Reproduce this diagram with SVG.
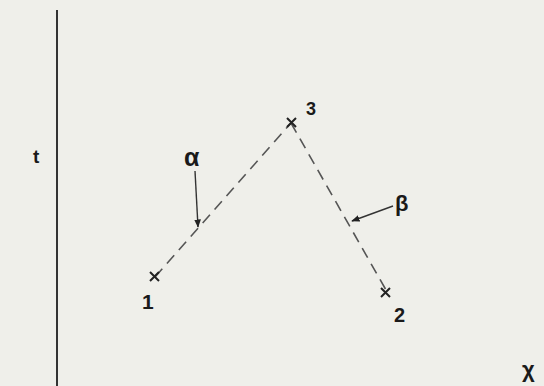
<svg xmlns="http://www.w3.org/2000/svg" width="544" height="386" viewBox="0 0 544 386">
<style>
.lbl{font-family:"Liberation Sans",Arial,sans-serif;fill:#1a1a1a;font-weight:bold}
.dash{stroke:#555;stroke-width:1.6;stroke-dasharray:11,7;fill:none}
.ptr{stroke:#333;stroke-width:1.4;fill:none}
.cross{stroke:#222;stroke-width:2;fill:none}
</style>
<defs>
<marker id="ah" viewBox="0 0 10 10" refX="9" refY="5" markerWidth="6" markerHeight="6" orient="auto">
<path d="M0,1 L10,5 L0,9 z" fill="#222"/>
</marker>
</defs>
<rect width="544" height="386" fill="#efefea"/>
<g id="axis">
<line x1="57" y1="10" x2="57" y2="386" stroke="#333" stroke-width="2"/>
<text class="lbl" x="33" y="163" font-size="19">t</text>
<text class="lbl" x="522" y="377" font-size="22" font-weight="normal">χ</text>
</g>
<g id="connectors">
<line class="dash" x1="155" y1="277" x2="291" y2="123"/>
<line class="dash" x1="291" y1="123" x2="386" y2="290"/>
<line class="ptr" x1="195" y1="171" x2="198" y2="227" marker-end="url(#ah)"/>
<line class="ptr" x1="393" y1="206" x2="352" y2="221" marker-end="url(#ah)"/>
</g>
<g id="p1">
<path class="cross" d="M150,272 L159,281 M159,272 L150,281"/>
<text class="lbl" x="142" y="309" font-size="21" font-weight="normal">1</text>
</g>
<g id="p3">
<path class="cross" d="M287,118 L296,127 M296,118 L287,127"/>
<text class="lbl" x="306" y="115" font-size="18">3</text>
</g>
<g id="p2">
<path class="cross" d="M381,288 L390,297 M390,288 L381,297"/>
<text class="lbl" x="394" y="322" font-size="20">2</text>
</g>
<g id="alpha">
<text class="lbl" x="184" y="166" font-size="25">α</text>
</g>
<g id="beta">
<text class="lbl" x="395" y="211" font-size="22">β</text>
</g>
</svg>
